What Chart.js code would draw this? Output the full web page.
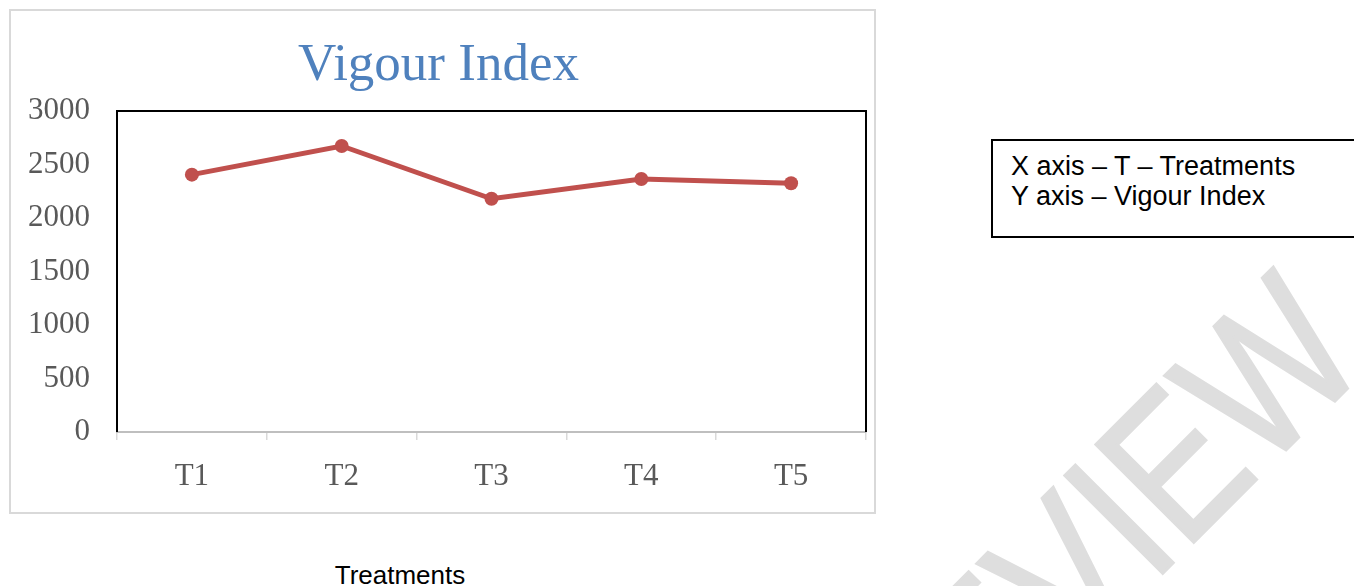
<!DOCTYPE html>
<html>
<head>
<meta charset="utf-8">
<title>Vigour Index</title>
<script src="https://cdn.jsdelivr.net/npm/chart.js@4.4.1/dist/chart.umd.min.js"></script>
<style>
  html, body { margin: 0; padding: 0; background: #fff; }
  body { width: 1354px; height: 586px; position: relative; overflow: hidden; }
  #watermark { position: absolute; left: 0; top: 0; width: 1354px; height: 586px; }
  #frame {
    position: absolute; left: 9px; top: 9px; width: 863px; height: 501px;
    border: 2px solid #d9d9d9; background: #fff;
  }
  #frame div { position: relative; width: 863px; height: 501px; }
  #note {
    position: absolute; left: 991px; top: 139px; width: 400px; height: 99px;
    border: 2px solid #000; background: #fff; box-sizing: border-box;
    font: 27px/30px 'Liberation Sans', Arial, sans-serif; color: #000;
    padding: 10px 0 0 18px;
  }
  #xtitle {
    position: absolute; left: 300px; width: 200px; top: 560px; text-align: center;
    font: 26px/30px 'Liberation Sans', Arial, sans-serif; color: #000;
  }
</style>
</head>
<body>
<svg id="watermark" width="1354" height="586">
  <text transform="translate(912,824) rotate(-45) scale(0.82,1)"
        font-family="Liberation Sans, Arial, sans-serif" font-size="201"
        fill="#dedede" stroke="#dedede" stroke-width="3">REVIEW</text>
</svg>
<div id="frame"><div><canvas id="vigour-chart"></canvas></div></div>
<div id="note">X axis – T – Treatments<br>Y axis – Vigour Index</div>
<div id="xtitle">Treatments</div>
<script>
// Data
const treatments = ['T1', 'T2', 'T3', 'T4', 'T5'];
const vigourIndex = [2405, 2673, 2180, 2365, 2325];
const yTicks = [0, 500, 1000, 1500, 2000, 2500, 3000];

const serif = "'Liberation Serif', 'Times New Roman', serif";
const tickGrey = '#595959';

// Black frame on top, left and right of the plot area
const plotFrame = {
  id: 'plotFrame',
  afterDraw(c) {
    const { ctx, chartArea: a } = c;
    ctx.save();
    ctx.strokeStyle = '#000';
    ctx.lineWidth = 2;
    ctx.beginPath();
    ctx.moveTo(a.left, a.bottom);
    ctx.lineTo(a.left, a.top);
    ctx.lineTo(a.right, a.top);
    ctx.lineTo(a.right, a.bottom);
    ctx.stroke();
    ctx.restore();
  },
};

const ctx = document.getElementById('vigour-chart');
// eslint-disable-next-line no-unused-vars
const chart = new Chart(ctx, {
  type: 'line',
  data: {
    labels: treatments,
    datasets: [{
      label: 'Vigour Index',
      data: vigourIndex,
      borderColor: '#c0504d',
      backgroundColor: '#c0504d',
      borderWidth: 5,
      pointRadius: 7,
      pointBorderWidth: 0,
      pointHoverRadius: 7,
      tension: 0,
    }],
  },
  options: {
    responsive: true,
    maintainAspectRatio: false,
    animation: false,
    layout: {
      padding: { top: 0, right: 8, bottom: 0, left: 0 },
    },
    plugins: {
      legend: { display: false },
      tooltip: { enabled: false },
      title: {
        display: true,
        text: 'Vigour Index',
        color: '#4f81bd',
        font: { family: serif, size: 53, weight: 'normal', lineHeight: 1.2 },
        padding: { top: 23.5, bottom: 12.9 },
      },
    },
    scales: {
      x: {
        offset: true,
        grid: {
          offset: true,
          drawOnChartArea: false,
          drawTicks: true,
          tickLength: 8,
          color: '#d9d9d9',
          lineWidth: 1.5,
        },
        border: { display: true, color: '#bfbfbf', width: 2 },
        ticks: {
          color: tickGrey,
          padding: 18,
          font: { family: serif, size: 31 },
        },
        afterFit(scale) { scale.height = 80; },
      },
      y: {
        min: 0,
        max: 3000,
        afterBuildTicks(scale) { scale.ticks = yTicks.map((v) => ({ value: v })); },
        grid: { display: false, drawTicks: false },
        border: { display: false },
        ticks: {
          color: tickGrey,
          padding: 27,
          font: { family: serif, size: 31 },
          callback: (value) => String(value),
        },
        afterFit(scale) { scale.width = 106; },
      },
    },
  },
  plugins: [plotFrame],
});
</script>
</body>
</html>
